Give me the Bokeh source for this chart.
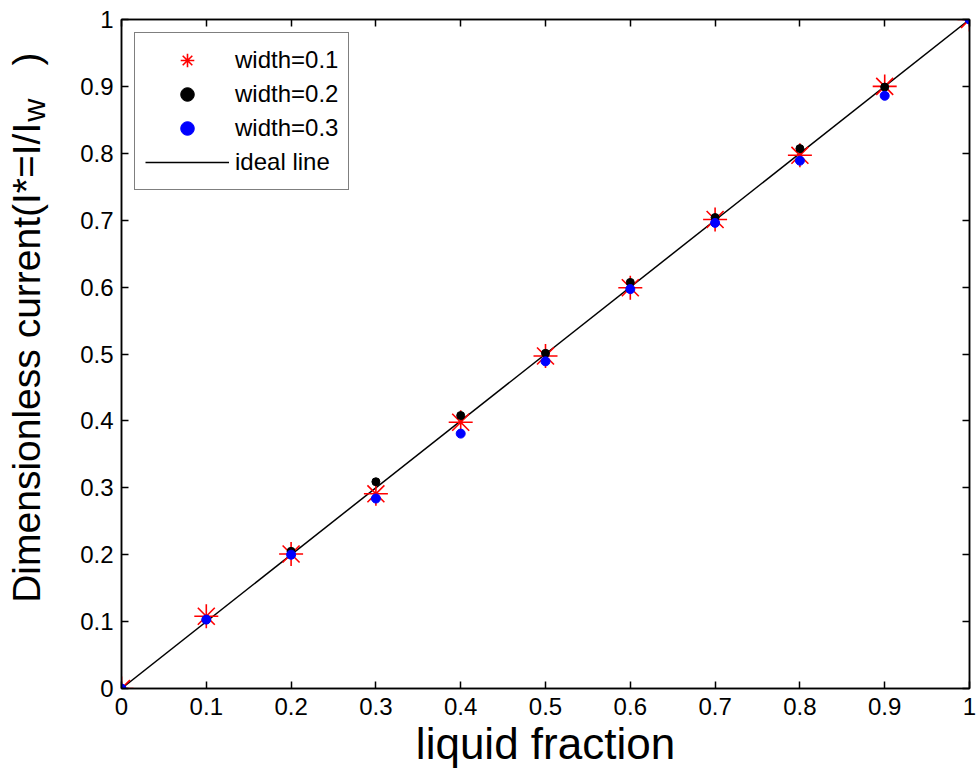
from bokeh.plotting import figure
from bokeh.layouts import row, column
from bokeh.models import (Range1d, LinearAxis, FixedTicker, NumeralTickFormatter,
                          CustomJSTickFormatter, Label, Legend, LegendItem)
from bokeh.embed import file_html
from bokeh.resources import INLINE
import math

# ---- data ----
liquid_fraction = [0.0, 0.1, 0.2, 0.3, 0.4, 0.5, 0.6, 0.7, 0.8, 0.9, 1.0]
width_01 = [0.0, 0.108, 0.201, 0.291, 0.398, 0.497, 0.599, 0.701, 0.797, 0.900, 1.0]
width_02 = [0.0, 0.103, 0.205, 0.309, 0.408, 0.501, 0.607, 0.704, 0.807, 0.899, 1.0]
width_03 = [0.0, 0.103, 0.200, 0.284, 0.381, 0.489, 0.597, 0.696, 0.789, 0.886, 1.0]
ideal_x = [0.0, 1.0]
ideal_y = [0.0, 1.0]
tick_values = [0.0, 0.1, 0.2, 0.3, 0.4, 0.5, 0.6, 0.7, 0.8, 0.9, 1.0]
series_labels = ["width=0.1", "width=0.2", "width=0.3", "ideal line"]
x_title = "liquid fraction"
y_title_main = "Dimensionless current(I*=I/I"
y_title_sub = "w"
y_title_end = ")"

FONT = "Liberation Sans"

# ---- layout sizes (pixels) ----
TOTAL_W, TOTAL_H = 979, 770
YLAB_W = 64
MAIN_H = 726
XLAB_H = TOTAL_H - MAIN_H

# ---- main plot ----
p = figure(width=TOTAL_W - YLAB_W, height=MAIN_H, output_backend="svg", toolbar_location=None,
           x_range=Range1d(0, 1), y_range=Range1d(0, 1),
           min_border_left=121 - YLAB_W, min_border_right=10, min_border_top=19,
           min_border_bottom=MAIN_H - 688)
p.background_fill_color = "white"
p.border_fill_color = "white"
p.grid.visible = False
p.outline_line_color = "black"
p.outline_line_width = 1.5

def style_axis(ax, show_labels=True):
    ax.ticker = FixedTicker(ticks=tick_values)
    ax.major_tick_in = 7
    ax.major_tick_out = 0
    ax.minor_tick_line_color = None
    ax.axis_line_color = "black"
    ax.axis_line_width = 1.5
    ax.major_tick_line_width = 1.5
    if show_labels:
        ax.formatter = NumeralTickFormatter(format="0.[0]")
        ax.major_label_text_font = FONT
        ax.major_label_text_font_size = "24px"
        ax.major_label_text_color = "black"
    else:
        ax.formatter = CustomJSTickFormatter(code="return ''")
        ax.major_label_standoff = 0

style_axis(p.xaxis[0])
style_axis(p.yaxis[0])
p.xaxis[0].major_label_standoff = 9
p.yaxis[0].major_label_standoff = 8

top_axis = LinearAxis()
right_axis = LinearAxis()
style_axis(top_axis, False)
style_axis(right_axis, False)
p.add_layout(top_axis, "above")
p.add_layout(right_axis, "right")

r_line = p.line(ideal_x, ideal_y, line_color="black", line_width=1.5)
r1 = p.scatter(liquid_fraction, width_01, marker="asterisk", size=24,
               line_color="red", line_width=1.6)
r2 = p.scatter(liquid_fraction, width_02, marker="circle", size=8,
               fill_color="black", line_color="black")
r3 = p.scatter(liquid_fraction, width_03, marker="circle", size=9,
               fill_color="blue", line_color="blue")

legend = Legend(items=[LegendItem(label=series_labels[0], renderers=[r1]),
                       LegendItem(label=series_labels[1], renderers=[r2]),
                       LegendItem(label=series_labels[2], renderers=[r3]),
                       LegendItem(label=series_labels[3], renderers=[r_line])],
                location="top_left")
legend.margin = 13
legend.padding = 10
legend.spacing = 0
legend.glyph_width = 84
legend.glyph_height = 34
legend.label_height = 34
legend.label_standoff = 6
legend.label_text_font = FONT
legend.label_text_font_size = "24px"
legend.label_text_color = "black"
legend.border_line_color = "black"
legend.border_line_width = 1.5
legend.background_fill_color = "white"
legend.background_fill_alpha = 1.0
p.add_layout(legend, "center")

# ---- y-axis title panel (pixel coordinates) ----
ylab = figure(width=YLAB_W, height=MAIN_H, output_backend="svg", toolbar_location=None,
              x_range=Range1d(0, YLAB_W), y_range=Range1d(0, MAIN_H),
              x_axis_type=None, y_axis_type=None, min_border=0)
ylab.grid.visible = False
ylab.outline_line_color = None
ylab.background_fill_color = "white"
ylab.border_fill_color = "white"
ylab.add_layout(Label(x=26, y=614, text=y_title_main, angle=math.pi / 2,
                      text_align="right", text_baseline="alphabetic",
                      text_font=FONT, text_font_size="39px", text_color="black"))
ylab.add_layout(Label(x=33, y=615, text=y_title_sub, angle=math.pi / 2,
                      text_align="left", text_baseline="alphabetic",
                      text_font=FONT, text_font_size="32px", text_color="black"))
ylab.add_layout(Label(x=26, y=676, text=y_title_end, angle=math.pi / 2,
                      text_align="left", text_baseline="alphabetic",
                      text_font=FONT, text_font_size="39px", text_color="black"))

# ---- x-axis title panel (pixel coordinates) ----
xlab = figure(width=TOTAL_W, height=XLAB_H, output_backend="svg", toolbar_location=None,
              x_range=Range1d(0, TOTAL_W), y_range=Range1d(0, XLAB_H),
              x_axis_type=None, y_axis_type=None, min_border=0)
xlab.grid.visible = False
xlab.outline_line_color = None
xlab.background_fill_color = "white"
xlab.border_fill_color = "white"
xlab.add_layout(Label(x=545, y=27, text=x_title, text_align="center",
                      text_baseline="alphabetic", text_font=FONT,
                      text_font_size="44px", text_color="black"))

layout = column(row(ylab, p, spacing=0), xlab, spacing=0)
open("out.html", "w").write(file_html(layout, INLINE))
